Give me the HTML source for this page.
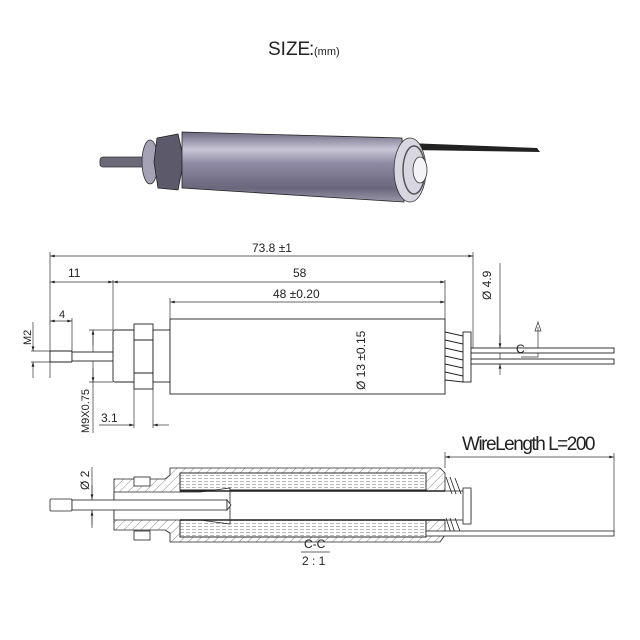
<!DOCTYPE html>
<html><head><meta charset="utf-8"><style>
html,body{margin:0;padding:0;background:#fff}
svg{display:block}
text{font-family:"Liberation Sans",sans-serif;fill:#222}
</style></head><body>
<svg width="640" height="640" viewBox="0 0 640 640" xmlns="http://www.w3.org/2000/svg">
<defs>
<linearGradient id="bg" x1="0" y1="0" x2="0" y2="1">
<stop offset="0" stop-color="#6c6880"/><stop offset="0.25" stop-color="#c8c6d6"/><stop offset="0.45" stop-color="#8e8aa4"/><stop offset="0.8" stop-color="#6a667c"/><stop offset="1" stop-color="#9a98aa"/>
</linearGradient>
<pattern id="h" width="6" height="6" patternUnits="userSpaceOnUse" patternTransform="rotate(45)"><line x1="0" y1="0" x2="0" y2="6" stroke="#333" stroke-width="0.6"/></pattern>
<pattern id="coil" width="6" height="3" patternUnits="userSpaceOnUse"><line x1="0" y1="1.5" x2="4" y2="1.5" stroke="#888" stroke-width="0.6"/></pattern>
<marker id="a" viewBox="0 0 10 6" refX="10" refY="3" markerWidth="7" markerHeight="4" orient="auto-start-reverse"><path d="M0,0L10,3L0,6z" fill="#222"/></marker>
</defs>

<text x="268" y="55" font-size="19">SIZE</text><text x="309" y="55" font-size="19">:</text><text x="314" y="55" font-size="11">(mm)</text>

<!-- 3D view -->
<g>
<rect x="100" y="157" width="45" height="10" rx="3" fill="#6c6a78" stroke="#333" stroke-width="0.8"/>
<path d="M407 143 L537 148 L540 152 L410 150z" fill="#222"/>
<ellipse cx="150" cy="162" rx="8" ry="22" fill="#a4a2b4" stroke="#333" stroke-width="0.8"/>
<path d="M157 138 L178 134 L184 160 L178 190 L158 188 L154 162z" fill="#5c5a6a" stroke="#222" stroke-width="0.8"/>
<path d="M182 132 L402 138 L404 202 L182 188z" fill="url(#bg)" stroke="#222" stroke-width="0.8"/>
<ellipse cx="410" cy="170" rx="16" ry="32" fill="#d8d6e0" stroke="#333" stroke-width="0.8"/>
<ellipse cx="414" cy="170" rx="11" ry="24" fill="none" stroke="#555" stroke-width="1.5"/>
<ellipse cx="420" cy="170" rx="7" ry="13" fill="#f4f4f8" stroke="#333" stroke-width="0.8"/>
</g>

<g stroke="#333" stroke-width="0.7" fill="none">
<path d="M50 252V378M113 280V330M170 298V319M445 280V319M473 252V349M72 318V351M134 389V428M153 389V428M500 263V368M93 330V433"/>
<line x1="50" y1="256" x2="473" y2="256" marker-start="url(#a)" marker-end="url(#a)"/>
<line x1="50" y1="282" x2="113" y2="282" marker-start="url(#a)" marker-end="url(#a)"/>
<line x1="113" y1="282" x2="445" y2="282" marker-start="url(#a)" marker-end="url(#a)"/>
<line x1="170" y1="302" x2="445" y2="302" marker-start="url(#a)" marker-end="url(#a)"/>
<line x1="50" y1="321" x2="72" y2="321" marker-start="url(#a)" marker-end="url(#a)"/>
<line x1="99" y1="425" x2="134" y2="425" marker-end="url(#a)"/>
<line x1="169" y1="425" x2="153" y2="425" marker-end="url(#a)"/>
<line x1="369" y1="319" x2="369" y2="394" marker-start="url(#a)" marker-end="url(#a)"/>
<line x1="33" y1="322" x2="33" y2="351" marker-end="url(#a)"/>
<line x1="33" y1="378" x2="33" y2="362" marker-end="url(#a)"/>
<path d="M31 351H50M31 362H50M89 330H113M89 382H113"/>
<line x1="93" y1="345" x2="93" y2="330" marker-end="url(#a)"/>
<line x1="93" y1="368" x2="93" y2="382" marker-end="url(#a)"/>
<line x1="500" y1="335" x2="500" y2="348" marker-end="url(#a)"/>
<line x1="500" y1="375" x2="500" y2="364" marker-end="url(#a)"/>
<path d="M521 357H538V327"/><path d="M535 331L538 322L541 331z"/>
<line x1="75" y1="357" x2="375" y2="357" stroke-dasharray="14 3 2 3"/>
</g>
<g stroke="#222" stroke-width="0.9" fill="#fff">
<rect x="50" y="351" width="22" height="11" rx="1"/>
<rect x="72" y="352" width="42" height="9"/>
<rect x="113" y="330" width="22" height="52" rx="2"/>
<rect x="134" y="324" width="19" height="65"/>
<line x1="134" y1="340" x2="153" y2="340"/><line x1="134" y1="373" x2="153" y2="373"/>
<rect x="153" y="330" width="17" height="52"/>
<rect x="170" y="319" width="275" height="75"/>
<rect x="463" y="332" width="8" height="50"/>
<path d="M445 332 L463 336 M445 340 L463 344 M445 348 L463 352 M445 356 L463 360 M445 364 L463 368 M445 372 L463 376 M445 380 L463 382" fill="none"/>
<rect x="471" y="348" width="143" height="5"/>
<rect x="471" y="359" width="143" height="5"/>
</g>
<g font-size="12">
<text x="252" y="252">73.8 ±1</text>
<text x="68" y="277">11</text>
<text x="293" y="277">58</text>
<text x="273" y="298">48 ±0.20</text>
<text x="59" y="318" font-size="11">4</text>
<text x="101" y="422">3.1</text>
<text x="516" y="353">C</text>
<text transform="translate(365,390) rotate(-90)">Ø 13 ±0.15</text>
<text transform="translate(491,300) rotate(-90)">Ø 4.9</text>
<text transform="translate(31,345) rotate(-90)" font-size="11">M2</text>
<text transform="translate(89,433) rotate(-90)" font-size="11">M9X0.75</text>
<text transform="translate(89,490) rotate(-90)">Ø 2</text>
</g>

<!-- section view -->
<text x="462" y="450" font-size="19" letter-spacing="-1.5" textLength="132">WireLength L=200</text>
<g stroke="#333" stroke-width="0.7" fill="none">
<line x1="445" y1="457" x2="614" y2="457" marker-start="url(#a)" marker-end="url(#a)"/>
<path d="M614 453V532M445 452V468M92 467V528"/>
<line x1="92" y1="485" x2="92" y2="499" marker-end="url(#a)"/>
<line x1="92" y1="525" x2="92" y2="511" marker-end="url(#a)"/>
</g>
<g stroke="#222" stroke-width="0.8">
<path d="M170 468H440L445 473V535L440 542H170V533L165 530H114V479H165L170 475z" fill="url(#h)"/>
<rect x="180" y="473" width="246" height="17" fill="#fff"/>
<rect x="180" y="473" width="246" height="17" fill="url(#coil)"/>
<rect x="180" y="520" width="246" height="17" fill="#fff"/>
<rect x="180" y="520" width="246" height="17" fill="url(#coil)"/>
<rect x="200" y="491" width="271" height="29" fill="#fff"/>
<path d="M114 492H200L230 488V524L200 520H114z" fill="#fff"/>
<rect x="50" y="499" width="22" height="12" rx="1" fill="#fff"/>
<rect x="72" y="500" width="155" height="10" fill="#fff"/>
<path d="M227 500L231 505L227 510z" fill="#fff"/>
<line x1="180" y1="491" x2="445" y2="491" stroke-width="1.5"/>
<line x1="180" y1="520" x2="445" y2="520" stroke-width="1.5"/>
<rect x="134" y="477" width="16" height="9" fill="#fff"/>
<rect x="134" y="531" width="16" height="9" fill="#fff"/>
<rect x="463" y="488" width="8" height="36" fill="#fff"/>
<path d="M446 477L452 494M450 477L456 494M455 478L461 494M446 518L452 536M450 518L456 536M455 518L461 534" fill="none"/>
<rect x="426" y="531" width="188" height="5" fill="#fff"/>
</g>
<text x="304" y="548" font-size="12">C-C</text>
<line x1="301" y1="552" x2="330" y2="552" stroke="#333" stroke-width="0.7"/>
<text x="302" y="565" font-size="12">2 : 1</text>
</svg>
</body></html>
